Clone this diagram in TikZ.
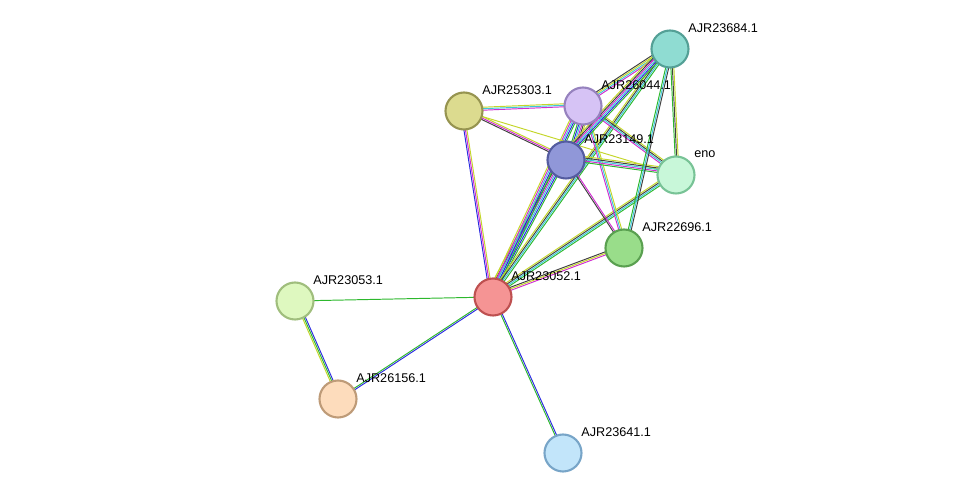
\documentclass[tikz,border=0pt]{standalone}
\usepackage{fontspec}
\setmainfont{Liberation Sans}
\usetikzlibrary{calc}

\definecolor{cGreen}{HTML}{2DB82D}
\definecolor{cBlue}{HTML}{2B2BE0}
\definecolor{cCyan}{HTML}{3CC8D8}
\definecolor{cMag}{HTML}{D02CD0}
\definecolor{cYel}{HTML}{C4D62A}
\definecolor{cBlk}{HTML}{404040}

% multi-coloured evidence edge
\newcommand{\evedge}[3]{%
  \foreach \c [count=\i] in {#3} {
    \pgfmathsetmacro{\off}{0.85*(\i-1)}
    \draw[evline, \c] ($(#1)!\off pt!90:(#2)$) -- ($(#2)!\off pt!-90:(#1)$);
  }
}

\begin{document}
\begin{tikzpicture}[
  x=0.02cm, y=-0.02cm,
  prot/.style={circle, minimum size=0.74cm, inner sep=0pt, line width=1.2pt},
  plabel/.style={anchor=west, font=\fontsize{7.2}{8}\selectfont, inner sep=0pt},
  evline/.style={line width=0.55pt}
]
\useasboundingbox (0,0) rectangle (975,499);

% positions
\coordinate (p23684) at (670,49);
\coordinate (p26044) at (583,106);
\coordinate (p25303) at (464,111);
\coordinate (p23149) at (566,160);
\coordinate (peno)   at (676,175);
\coordinate (p22696) at (624,248);
\coordinate (p23052) at (493,297);
\coordinate (p23053) at (295,301);
\coordinate (p26156) at (338,399);
\coordinate (p23641) at (563,453);

% edges
\evedge{p23052}{p23053}{cGreen}
\evedge{p23052}{p26156}{cGreen,cBlue}
\evedge{p23053}{p26156}{cYel,cGreen,cBlue}
\evedge{p23052}{p23641}{cGreen,cBlue}
\evedge{p23052}{p25303}{cYel,cMag,cBlue}
\evedge{p23052}{p23149}{cGreen,cBlue,cCyan,cMag,cBlk,cYel}
\evedge{p23052}{p26044}{cGreen,cBlue,cCyan,cMag,cYel}
\evedge{p23052}{p23684}{cGreen,cCyan,cBlk,cYel}
\evedge{p23052}{peno}{cGreen,cCyan,cBlk,cYel}
\evedge{p23052}{p22696}{cMag,cYel,cBlk}
\evedge{p25303}{p26044}{cMag,cCyan,cYel}
\evedge{p25303}{p23149}{cBlk,cMag,cYel}
\evedge{p25303}{peno}{cYel}
\evedge{p26044}{p23684}{cMag,cCyan,cYel,cBlk}
\evedge{p26044}{p23149}{cGreen,cBlue,cCyan,cMag,cBlk,cYel}
\evedge{p26044}{peno}{cMag,cCyan,cBlk,cYel}
\evedge{p26044}{p22696}{cMag,cCyan,cYel}
\evedge{p23149}{p23684}{cGreen,cBlue,cCyan,cMag,cBlk,cYel}
\evedge{p23149}{peno}{cGreen,cMag,cCyan,cBlk,cYel}
\evedge{p23149}{p22696}{cBlk,cMag}
\evedge{p23684}{peno}{cGreen,cBlk,cYel}
\evedge{p23684}{p22696}{cGreen,cCyan,cBlk}

% proteins
\node[prot, fill={rgb,255:red,143;green,220;blue,210}, draw={rgb,255:red,84;green,160;blue,150}] (n23684) at (p23684) {};
\node[prot, fill={rgb,255:red,214;green,195;blue,245}, draw={rgb,255:red,150;green,130;blue,190}] (n26044) at (p26044) {};
\node[prot, fill={rgb,255:red,220;green,219;blue,143}, draw={rgb,255:red,150;green,148;blue,80}] (n25303) at (p25303) {};
\node[prot, fill={rgb,255:red,144;green,151;blue,216}, draw={rgb,255:red,84;green,92;blue,160}] (n23149) at (p23149) {};
\node[prot, fill={rgb,255:red,200;green,247;blue,217}, draw={rgb,255:red,120;green,195;blue,150}] (neno) at (peno) {};
\node[prot, fill={rgb,255:red,153;green,221;blue,138}, draw={rgb,255:red,90;green,160;blue,80}] (n22696) at (p22696) {};
\node[prot, fill={rgb,255:red,245;green,148;blue,148}, draw={rgb,255:red,190;green,80;blue,80}] (n23052) at (p23052) {};
\node[prot, fill={rgb,255:red,222;green,248;blue,191}, draw={rgb,255:red,160;green,190;blue,125}] (n23053) at (p23053) {};
\node[prot, fill={rgb,255:red,253;green,220;blue,188}, draw={rgb,255:red,190;green,155;blue,120}] (n26156) at (p26156) {};
\node[prot, fill={rgb,255:red,194;green,229;blue,250}, draw={rgb,255:red,120;green,165;blue,200}] (n23641) at (p23641) {};

% labels
\node[plabel] (l23684) at ($(p23684)+(18,-21)$) {AJR23684.1};
\node[plabel] (l26044) at ($(p26044)+(18,-21)$) {AJR26044.1};
\node[plabel] (l25303) at ($(p25303)+(18,-21)$) {AJR25303.1};
\node[plabel] (l23149) at ($(p23149)+(18,-21)$) {AJR23149.1};
\node[plabel] (leno)   at ($(peno)+(18,-21)$) {eno};
\node[plabel] (l22696) at ($(p22696)+(18,-21)$) {AJR22696.1};
\node[plabel] (l23052) at ($(p23052)+(18,-21)$) {AJR23052.1};
\node[plabel] (l23053) at ($(p23053)+(18,-21)$) {AJR23053.1};
\node[plabel] (l26156) at ($(p26156)+(18,-21)$) {AJR26156.1};
\node[plabel] (l23641) at ($(p23641)+(18,-21)$) {AJR23641.1};
\end{tikzpicture}
\end{document}
